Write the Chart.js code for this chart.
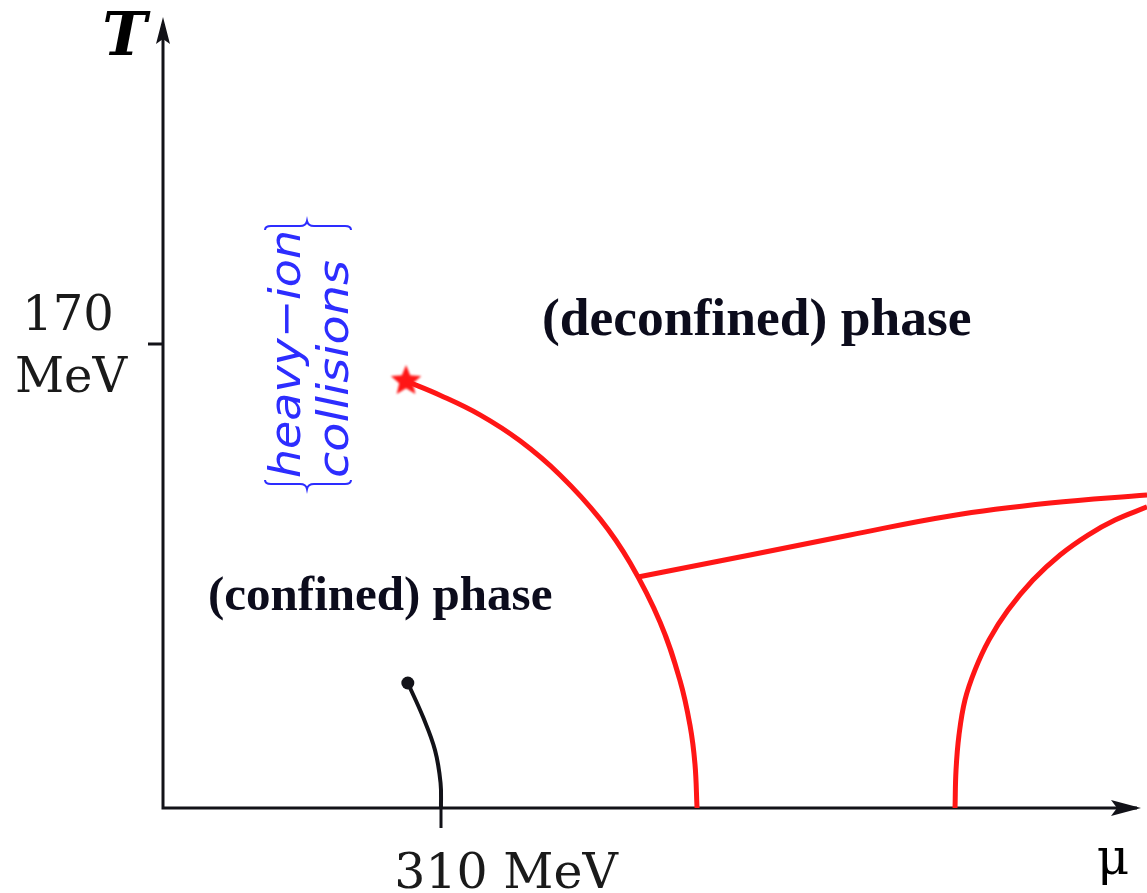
<!DOCTYPE html>
<html>
<head>
<meta charset="utf-8">
<script src="https://cdn.jsdelivr.net/npm/chart.js@4"></script>
<style>
  html, body { margin: 0; padding: 0; background: #fff; }
  #wrap { width: 1147px; height: 893px; }
</style>
</head>
<body>
<div id="wrap"><canvas id="c" width="1147" height="893"></canvas></div>
<script>
// QCD phase diagram: baryon chemical potential μ (MeV) vs temperature T (MeV)

// critical end point
const criticalMu = [271];
const criticalT = [156.4];

// deconfinement / chiral transition line (from the critical point down to T = 0)
const transitionMu = [271, 308.9, 353.5, 398.1, 442.7, 487.3, 520.8, 554.2, 576.5, 587.7, 593.2, 595.5];
const transitionT  = [156.4, 151.2, 144.0, 134.5, 122.0, 105.9, 89.8, 68.1, 46.7, 30.2, 16.1, 0];

// branch separating the quark-matter phases
const branchMu = [529.7, 654.6, 766.1, 877.6, 989.1, 1097.3];
const branchT  = [84.6, 92.7, 100.0, 107.0, 111.7, 114.7];

// colour-superconducting boundary
const cscMu = [883.2, 884.3, 887.6, 894.3, 905.5, 921.1, 942.3, 970.1, 1000.3, 1031.5, 1061.6, 1097.3];
const cscT  = [0, 13.9, 26.7, 39.6, 50.6, 61.6, 72.5, 83.5, 92.7, 100.0, 105.5, 110.3];

// nuclear liquid-gas line
const nuclearMu = [273, 290, 303.3, 309.5, 310];
const nuclearT  = [45.8, 33.3, 21.2, 9.2, 0];

// axis ticks
const muTicks = [310];
const muTickLabels = ['310 MeV'];
const tTicks = [170];
const tTickLabels = [['170', 'MeV']];

const MU_MAX = 1092.8;
const T_MAX = 289.4;

const pts = (xs, ys) => xs.map((x, i) => ({ x, y: ys[i] }));

function starImage(r, color) {
  const s = Math.ceil(r * 2 + 6);
  const c = document.createElement('canvas');
  c.width = s; c.height = s;
  const g = c.getContext('2d');
  g.translate(s / 2, s / 2);
  g.filter = 'blur(0.9px)';
  g.beginPath();
  for (let i = 0; i < 10; i++) {
    const a = -Math.PI / 2 + i * Math.PI / 5;
    const rr = i % 2 ? r * 0.45 : r;
    g.lineTo(rr * Math.cos(a), rr * Math.sin(a));
  }
  g.closePath();
  g.fillStyle = color;
  g.fill();
  return c;
}

const RED = 'rgb(255,22,22)';
const INK = '#121218';
const BLUE = 'rgb(45,45,255)';

// axes with arrows, ticks and tick labels
const axesPlugin = {
  id: 'axes',
  beforeDatasetsDraw(chart) {
    const { ctx, chartArea: a, scales: { x, y } } = chart;
    const x0 = x.getPixelForValue(0);
    const y0 = y.getPixelForValue(0);
    ctx.save();
    ctx.strokeStyle = INK;
    ctx.fillStyle = INK;
    ctx.lineWidth = 3;
    ctx.beginPath();
    ctx.moveTo(x0, y0 + 1.5);
    ctx.lineTo(x0, a.top + 6);
    ctx.moveTo(x0 - 1.5, y0);
    ctx.lineTo(a.right - 6, y0);
    ctx.stroke();
    // arrow heads
    ctx.beginPath();
    ctx.moveTo(x0, a.top - 1);
    ctx.lineTo(x0 - 7, a.top + 26);
    ctx.lineTo(x0, a.top + 21);
    ctx.lineTo(x0 + 7, a.top + 26);
    ctx.closePath();
    ctx.fill();
    ctx.beginPath();
    ctx.moveTo(a.right - 2, y0);
    ctx.lineTo(a.right - 32, y0 - 8);
    ctx.lineTo(a.right - 26, y0);
    ctx.lineTo(a.right - 32, y0 + 8);
    ctx.closePath();
    ctx.fill();

    // ticks
    ctx.lineWidth = 3;
    ctx.beginPath();
    tTicks.forEach(v => {
      const py = y.getPixelForValue(v);
      ctx.moveTo(x0 - 15, py);
      ctx.lineTo(x0, py);
    });
    muTicks.forEach(v => {
      const px = x.getPixelForValue(v);
      ctx.moveTo(px, y0);
      ctx.lineTo(px, y0 + 20);
    });
    ctx.stroke();

    // tick labels
    ctx.font = '48px "DejaVu Serif"';
    ctx.textBaseline = 'alphabetic';
    ctx.fillStyle = '#1a1a1a';
    tTicks.forEach((v, i) => {
      const py = y.getPixelForValue(v);
      const lines = tTickLabels[i];
      ctx.textAlign = 'center';
      ctx.fillText(lines[0], x0 - 95, py - 14);
      ctx.fillText(lines[1], x0 - 92, py + 48);
    });
    ctx.font = '49px "DejaVu Serif"';
    muTicks.forEach((v, i) => {
      const px = x.getPixelForValue(v);
      const label = muTickLabels[i];
      const num = label.split(' ')[0];
      ctx.textAlign = 'left';
      ctx.fillText(label, px - ctx.measureText(num).width / 2, y0 + 80);
    });

    // axis titles
    ctx.font = 'italic bold 60px "DejaVu Serif"';
    ctx.textAlign = 'right';
    ctx.fillStyle = '#000';
    ctx.fillText('T', x0 - 16, a.top + 37);
    ctx.font = '50px "DejaVu Serif"';
    ctx.textAlign = 'center';
    ctx.fillText('μ', a.right - 30, y0 + 66);
    ctx.restore();
  },
  afterDatasetsDraw(chart) {
    const { ctx, scales: { x, y } } = chart;
    ctx.save();
    // phase labels
    ctx.fillStyle = '#0c0c1c';
    ctx.textAlign = 'left';
    ctx.textBaseline = 'alphabetic';
    ctx.font = 'bold 53.5px "Liberation Serif"';
    ctx.fillText('(deconfined) phase', x.getPixelForValue(422.6), y.getPixelForValue(173.3));
    ctx.font = 'bold 49px "Liberation Serif"';
    ctx.fillText('(confined) phase', x.getPixelForValue(50.2), y.getPixelForValue(72.5));

    // vertical "heavy-ion collisions" note with braces
    ctx.fillStyle = BLUE;
    ctx.font = 'italic 42px "DejaVu Sans"';
    const drawVert = (txt, px, py, len) => {
      ctx.save();
      ctx.translate(px, py);
      ctx.rotate(-Math.PI / 2);
      const w = ctx.measureText(txt).width;
      ctx.scale(len / w, 1);
      ctx.fillText(txt, 0, 0);
      ctx.restore();
    };
    drawVert('heavy\u2212ion', 300, 478, 248);
    drawVert('collisions', 348, 478, 218);

    ctx.strokeStyle = BLUE;
    ctx.lineWidth = 2;
    const brace = (yy, dir) => {
      ctx.beginPath();
      ctx.moveTo(265, yy - 4 * dir);
      ctx.quadraticCurveTo(265, yy, 271, yy);
      ctx.lineTo(300, yy);
      ctx.quadraticCurveTo(306, yy, 307, yy + 5 * dir);
      ctx.quadraticCurveTo(308, yy, 314, yy);
      ctx.lineTo(345, yy);
      ctx.quadraticCurveTo(351, yy, 351, yy - 4 * dir);
      ctx.stroke();
    };
    brace(226, -1);
    brace(484, 1);
    ctx.restore();
  }
};

new Chart(document.getElementById('c'), {
  type: 'scatter',
  data: {
    datasets: [
      {
        data: pts(transitionMu, transitionT),
        showLine: true, borderColor: RED, borderWidth: 5,
        pointRadius: 0, tension: 0.4, clip: false
      },
      {
        data: pts(branchMu, branchT),
        showLine: true, borderColor: RED, borderWidth: 5,
        pointRadius: 0, tension: 0.4, clip: false
      },
      {
        data: pts(cscMu, cscT),
        showLine: true, borderColor: RED, borderWidth: 5,
        pointRadius: 0, tension: 0.4, clip: false
      },
      {
        data: pts(nuclearMu, nuclearT),
        showLine: true, borderColor: INK, borderWidth: 4,
        pointRadius: [6.5, 0, 0, 0, 0], pointBackgroundColor: INK,
        pointBorderWidth: 0, tension: 0.4, clip: false
      },
      {
        data: pts(criticalMu, criticalT),
        showLine: false,
        pointStyle: starImage(16, RED),
        pointRadius: 16, clip: false
      }
    ]
  },
  options: {
    responsive: false,
    animation: false,
    devicePixelRatio: 1,
    layout: { autoPadding: false, padding: { left: 163, right: 4, top: 18, bottom: 85 } },
    plugins: { legend: { display: false }, tooltip: { enabled: false } },
    scales: {
      x: { type: 'linear', min: 0, max: MU_MAX, display: false },
      y: { type: 'linear', min: 0, max: T_MAX, display: false }
    }
  },
  plugins: [axesPlugin]
});
</script>
</body>
</html>
